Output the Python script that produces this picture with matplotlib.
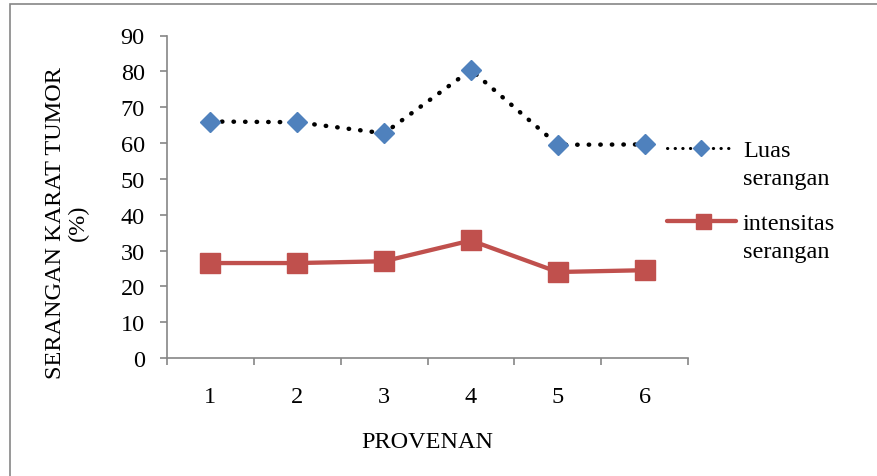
import matplotlib
matplotlib.use("Agg")
import matplotlib.pyplot as plt
from matplotlib.patches import Rectangle
from matplotlib.lines import Line2D

# data
provenan = [1, 2, 3, 4, 5, 6]
luas_serangan = [66.0, 65.8, 62.7, 80.4, 59.5, 59.6]
intensitas_serangan = [26.5, 26.5, 27.0, 32.8, 24.0, 24.5]
y_ticks = [0, 10, 20, 30, 40, 50, 60, 70, 80, 90]
series_names = ['Luas\nserangan', 'intensitas\nserangan']

plt.rcParams['font.family'] = ['Liberation Serif', 'DejaVu Serif']
FS = 17.5
AXIS_GREY = '#868686'
BLUE = '#4F81BD'
RED = '#C0504D'
W, H = 877, 477


def fx(px):
    return px / W


def fy(py):
    return 1 - py / H


fig = plt.figure(figsize=(W / 100, H / 100), dpi=100)
ax = fig.add_axes([fx(167), fy(359), (688 - 167) / W, (359 - 36.5) / H])

# grey frame round the whole chart
fig.patches.append(Rectangle((fx(10), -0.01), 1.0, fy(5) + 0.01,
                             transform=fig.transFigure, fill=False,
                             edgecolor=AXIS_GREY, linewidth=1.2))

dotted = (0, (0.1, 2.5))
ax.plot(provenan, luas_serangan, color='black', linewidth=3.2,
        linestyle=dotted, dash_capstyle='round',
        marker='D', markersize=10, markerfacecolor=BLUE, markeredgecolor=BLUE,
        zorder=3)
ax.plot(provenan, intensitas_serangan, color=RED, linewidth=3.1,
        marker='s', markersize=14, markerfacecolor=RED, markeredgecolor=RED,
        zorder=3)

ax.set_xlim(0.5, 6.5)
ax.set_ylim(0, 90)
ax.set_yticks(y_ticks)
ax.set_xticks(provenan)
ax.set_xticks([x + 0.5 for x in [0] + provenan], minor=True)
ax.tick_params(axis='x', which='major', length=0, pad=20, labelsize=FS)
ax.tick_params(axis='x', which='minor', length=5, width=1.2, color=AXIS_GREY)
ax.tick_params(axis='y', length=5, width=1.2, color=AXIS_GREY, pad=11, labelsize=FS)

for side in ['top', 'right']:
    ax.spines[side].set_visible(False)
for side in ['left', 'bottom']:
    ax.spines[side].set_color(AXIS_GREY)
    ax.spines[side].set_linewidth(1.2)

fig.text(fx(427.5), fy(443), 'PROVENAN', ha='center', va='center', fontsize=FS)
fig.text(fx(67), fy(223), 'SERANGAN KARAT TUMOR\n(%)', ha='center', va='center',
         rotation=90, fontsize=FS, linespacing=1.15)

# legend entries to the right of the plot
legend_rows = [
    dict(y=149, x0=667, x1=732, color='black', lw=2.2, ls=(0, (0.1, 2.4)),
         marker='D', ms=8.6, mc=BLUE, base=157),
    dict(y=222, x0=667, x1=736, color=RED, lw=3.1, ls='-',
         marker='s', ms=10.8, mc=RED, base=230),
]
for row, name in zip(legend_rows, series_names):
    fig.lines.append(Line2D([fx(row['x0']), fx(row['x1'])], [fy(row['y'])] * 2,
                            transform=fig.transFigure, color=row['color'],
                            linewidth=row['lw'], linestyle=row['ls'],
                            dash_capstyle='round', solid_capstyle='round'))
    fig.lines.append(Line2D([fx((row['x0'] + row['x1']) / 2 + 1)], [fy(row['y'])],
                            transform=fig.transFigure, linestyle='none',
                            marker=row['marker'], markersize=row['ms'],
                            markerfacecolor=row['mc'], markeredgecolor=row['mc']))
    first, second = name.split('\n')
    fig.text(fx(743), fy(row['base']), first, ha='left', va='baseline', fontsize=FS)
    fig.text(fx(743), fy(row['base'] + 28), second, ha='left', va='baseline', fontsize=FS)

fig.savefig('out.png', dpi=100)
